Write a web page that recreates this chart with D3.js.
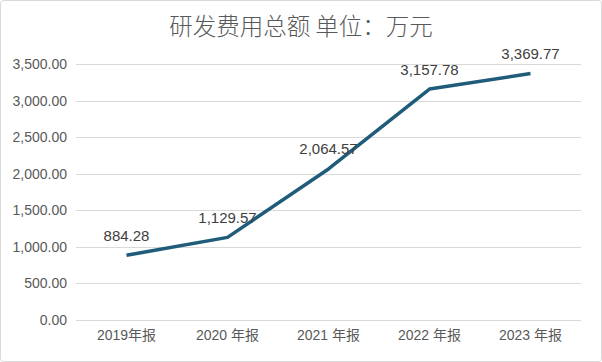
<!DOCTYPE html>
<html><head><meta charset="utf-8">
<script src="https://cdn.jsdelivr.net/npm/d3@7"></script>
<style>body{margin:0;background:#fff}svg{display:block}</style>
</head><body><svg id="c" width="602" height="362"></svg>
<script>
const categories = ["2019年报", "2020 年报", "2021 年报", "2022 年报", "2023 年报"];
const values = [884.28, 1129.57, 2064.57, 3157.78, 3369.77];
const yTicks = [0, 500, 1000, 1500, 2000, 2500, 3000, 3500];
const title = "研发费用总额 单位：万元";

const svg = d3.select("#c");
const W = 602, H = 362;
const m = {left: 76, right: 21, top: 64, bottom: 42};
const font = "'Liberation Sans', Arial, 'Noto Sans CJK SC', sans-serif";

svg.append("rect").attr("x",0.5).attr("y",0.5).attr("width",W-1).attr("height",H-1)
  .attr("rx",3).attr("fill","#fff").attr("stroke","#d9d9d9");

const x = d3.scaleBand().domain(categories).range([m.left, W-m.right]);
const y = d3.scaleLinear().domain([0,3500]).range([H-m.bottom, m.top]);
const fmt = d3.format(",.2f");

// gridlines
svg.append("g").selectAll("line").data(yTicks).join("line")
  .attr("x1", m.left).attr("x2", W-m.right)
  .attr("y1", d=>Math.round(y(d))+0.5).attr("y2", d=>Math.round(y(d))+0.5)
  .attr("stroke","#d9d9d9").attr("stroke-width",1);

// y axis labels
const yAxis = d3.axisLeft(y).tickValues(yTicks).tickFormat(fmt).tickSize(0).tickPadding(9);
const ya = svg.append("g").attr("transform",`translate(${m.left},0)`).call(yAxis);
ya.select(".domain").remove();
ya.selectAll("text").attr("fill","#595959").style("font-family",font).style("font-size","14px");

// x axis labels
const xAxis = d3.axisBottom(x).tickSize(0).tickPadding(10);
const xa = svg.append("g").attr("transform",`translate(0,${H-m.bottom})`).call(xAxis);
xa.select(".domain").remove();
xa.selectAll("text").attr("fill","#595959").style("font-family",font).style("font-size","14px");

// line
const cx = d => x(d) + x.bandwidth()/2;
const line = d3.line().x((d,i)=>cx(categories[i])).y(d=>y(d));
svg.append("path").datum(values).attr("d",line).attr("fill","none")
  .attr("stroke","#1f5c7a").attr("stroke-width",3.5).attr("stroke-linejoin","round");

// data labels
svg.append("g").selectAll("text").data(values).join("text")
  .attr("x",(d,i)=>cx(categories[i])).attr("y",d=>y(d)-14.5)
  .attr("text-anchor","middle").attr("fill","#404040")
  .style("font-family",font).style("font-size","15px").text(fmt);

// title
svg.append("text").attr("x",W/2).attr("y",35).attr("text-anchor","middle")
  .attr("fill","#595959").style("font-family","'Noto Sans CJK SC', sans-serif")
  .style("font-weight","300").style("font-size","23.5px")
  .text(title);
</script></body></html>
